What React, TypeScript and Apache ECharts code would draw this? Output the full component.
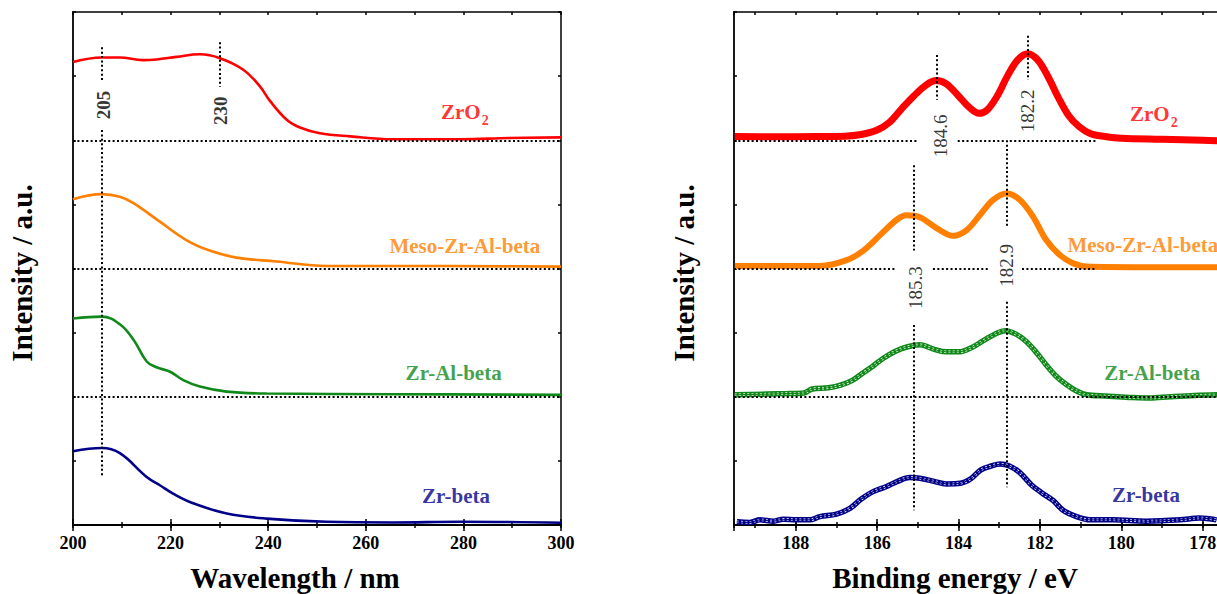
import React, { useEffect, useRef } from 'react';
import * as echarts from 'echarts';

// ---------- UV-vis (left panel): [wavelength nm, stacked intensity a.u.] ----------
const uvZrO2: number[][] = [
  [200, 7.22], [205.9, 7.29], [209.6, 7.29], [214.3, 7.25], [217.1, 7.26], [221.2, 7.3], [226, 7.34],
  [230.1, 7.28], [234.9, 7.1], [238.3, 6.84], [240.4, 6.61], [243.8, 6.32], [246.5, 6.2], [250.6, 6.11],
  [256.8, 6.06], [265.6, 6.015], [279.3, 6.015], [289.5, 6.035], [300, 6.045],
];
const uvMeso: number[][] = [
  [200, 5.08], [205.9, 5.16], [209.6, 5.12], [212.4, 5.02], [217.8, 4.73], [223.3, 4.44], [228, 4.28],
  [233.5, 4.17], [241.7, 4.11], [252, 4.04], [265.6, 4.04], [300, 4.03],
];
const uvZrAl: number[][] = [
  [200, 3.22], [205.9, 3.25], [209.6, 3.13], [212.4, 2.89], [215.1, 2.55], [217.1, 2.46], [219.9, 2.39],
  [222.6, 2.26], [226, 2.16], [231.5, 2.08], [239.7, 2.05], [265.6, 2.04], [300, 2.03],
];
const uvZrBeta: number[][] = [
  [200, 1.15], [205.9, 1.2], [209.6, 1.12], [215.1, 0.75], [217.8, 0.62], [220.5, 0.49], [224.6, 0.34],
  [231.5, 0.18], [239.7, 0.1], [252, 0.05], [265.6, 0.04], [279.3, 0.05], [300, 0.036],
];

// ---------- XPS Zr 3d (right panel): [binding energy eV, stacked intensity a.u.] ----------
const xpsZrO2: number[][] = [
  [189.5, 6.058], [188.5, 6.055], [187.5, 6.058], [186.8, 6.063], [186.4, 6.09], [186.0, 6.16], [185.7, 6.28],
  [185.4, 6.49], [185.1, 6.69], [184.8, 6.86], [184.55, 6.93], [184.3, 6.88], [184.0, 6.69], [183.75, 6.52],
  [183.5, 6.42], [183.3, 6.47], [183.05, 6.69], [182.8, 7.0], [182.55, 7.25], [182.3, 7.35], [182.05, 7.25],
  [181.8, 6.99], [181.55, 6.67], [181.3, 6.39], [181.05, 6.22], [180.75, 6.1], [180.4, 6.058], [180.0, 6.03],
  [179.0, 6.015], [178.0, 6.0], [177.6, 5.993],
];
const xpsMeso: number[][] = [
  [189.5, 4.04], [188.5, 4.04], [187.41, 4.04], [186.75, 4.13], [186.34, 4.28], [185.93, 4.52], [185.52, 4.76],
  [185.28, 4.83], [184.95, 4.8], [184.54, 4.63], [184.13, 4.51], [183.8, 4.6], [183.48, 4.83], [183.15, 5.07],
  [182.82, 5.17], [182.49, 5.07], [182.17, 4.81], [181.84, 4.44], [181.51, 4.21], [181.18, 4.08],
  [180.85, 4.03], [179.5, 4.02], [177.6, 4.02],
];
const xpsZrAl: number[][] = [
  [189.5, 2.03], [188.2, 2.05], [187.8, 2.06], [187.6, 2.12], [187.2, 2.14], [186.9, 2.18], [186.6, 2.26],
  [186.35, 2.37], [186.1, 2.48], [185.85, 2.6], [185.55, 2.71], [185.25, 2.78], [184.95, 2.81], [184.6, 2.74],
  [184.3, 2.7], [184.0, 2.7], [183.7, 2.76], [183.4, 2.87], [183.1, 2.98], [182.85, 3.03], [182.6, 2.98],
  [182.35, 2.87], [182.1, 2.7], [181.85, 2.5], [181.6, 2.32], [181.35, 2.19], [181.1, 2.09], [180.85, 2.03],
  [180.4, 2.01], [179.8, 1.99], [179.3, 1.98], [178.8, 2.0], [178.2, 2.02], [177.6, 2.03],
];
const xpsZrBeta: number[][] = [
  [189.45, 0.05], [189.13, 0.04], [188.88, 0.08], [188.55, 0.06], [188.31, 0.09], [187.98, 0.08], [187.66, 0.08],
  [187.41, 0.13], [187.0, 0.17], [186.67, 0.26], [186.4, 0.4], [186.1, 0.52], [185.77, 0.6], [185.5, 0.68],
  [185.2, 0.74], [184.95, 0.73], [184.6, 0.68], [184.3, 0.64], [183.95, 0.65], [183.7, 0.72], [183.45, 0.86],
  [183.2, 0.92], [182.98, 0.95], [182.75, 0.92], [182.5, 0.82], [182.2, 0.62], [181.95, 0.5], [181.67, 0.38],
  [181.43, 0.23], [181.1, 0.13], [180.77, 0.08], [180.2, 0.08], [179.38, 0.06], [178.56, 0.08], [178.07, 0.11],
  [177.66, 0.08],
];

// ---------- sample names and annotation anchors (data coordinates) ----------
const sampleNames = ['ZrO2', 'Meso-Zr-Al-beta', 'Zr-Al-beta', 'Zr-beta'];
const uvNameAnchors: number[][] = [[280.3, 6.42], [280.3, 4.35], [278.0, 2.37], [278.5, 0.45]];
const xpsNameAnchors: number[][] = [[179.2, 6.39], [179.47, 4.37], [179.24, 2.37], [179.39, 0.47]];

const uvPeakTexts = ['205', '230'];
const uvPeakAnchors: number[][] = [[206.25, 6.55], [230.3, 6.46]];
const xpsPeakTexts = ['184.6', '182.2', '185.3', '182.9'];
const xpsPeakAnchors: number[][] = [[184.45, 6.07], [182.31, 6.46], [185.07, 3.7], [182.82, 4.05]];

// dotted guide segments [[x1, y1], [x2, y2]]
const uvGuides: number[][][] = [
  [[205.9, 7.45], [205.9, 6.92]], [[205.9, 6.16], [205.9, 0.75]],
  [[230.1, 7.53], [230.1, 6.83]],
  [[200, 6], [300, 6]], [[200, 4], [300, 4]], [[200, 2], [300, 2]],
];
const xpsGuides: number[][][] = [
  [[184.54, 7.33], [184.54, 6.63]], [[182.29, 7.63], [182.29, 6.94]],
  [[189.52, 6], [185.02, 6]], [[184.02, 6], [182.86, 6]], [[182.74, 6], [180.6, 6]],
  [[182.82, 6.0], [182.82, 4.63]], [[182.82, 3.48], [182.82, 0.59]],
  [[185.1, 5.61], [185.1, 4.28]], [[185.1, 3.12], [185.1, 0.23]],
  [[189.52, 4], [185.52, 4]], [[184.63, 4], [183.28, 4]], [[182.44, 4], [180.6, 4]],
  [[189.52, 2], [177.5, 2]],
];

const COLORS = ['#ff0000', '#ff7f00', '#11891a', '#000088'];
const FONT = '"Liberation Serif", "Times New Roman", serif';

function xAxes(gridIndex: number, min: number, max: number, minor: number, major: number, inverse: boolean) {
  const base = {
    gridIndex, type: 'value', min, max, inverse, position: 'bottom',
    splitLine: { show: false },
    axisLine: { show: false, onZero: false, lineStyle: { color: '#000', width: 1.5 } },
    axisLabel: { show: false },
  };
  const tick = (inside: boolean, length: number) => ({ show: true, inside, length, lineStyle: { color: '#000', width: 1.5 } });
  return [
    {
      ...base, interval: minor,
      axisLine: { show: true, onZero: false, lineStyle: { color: '#000', width: 1.8 } },
      axisTick: tick(true, 3),
      axisLabel: {
        show: true, margin: 9, color: '#000', fontFamily: FONT, fontWeight: 'bold', fontSize: 18,
        hideOverlap: false,
        formatter: (v: number) => (Math.abs(v / major - Math.round(v / major)) < 1e-6 ? String(Math.round(v)) : ''),
      },
    },
    { ...base, interval: minor, axisTick: tick(false, 3) },
    { ...base, interval: major, axisTick: tick(true, 6) },
    { ...base, interval: major, axisTick: tick(false, 6) },
    {
      ...base, interval: minor, position: 'top',
      axisLine: { show: true, onZero: false, lineStyle: { color: '#000', width: 1.5 } },
      axisTick: tick(true, 3),
    },
  ];
}

function yAxes(gridIndex: number) {
  const common = {
    gridIndex, type: 'value', min: 0, max: 8, interval: 1,
    splitLine: { show: false }, axisLabel: { show: false },
    axisTick: { show: true, inside: true, length: 3, lineStyle: { color: '#000', width: 1.5 } },
  };
  return [
    { ...common, position: 'left', axisLine: { show: true, onZero: false, lineStyle: { color: '#000', width: 1.8 } } },
    { ...common, position: 'right', axisLine: { show: true, onZero: false, lineStyle: { color: '#000', width: 1.5 } } },
  ];
}

function nameLabel(i: number, weight: string) {
  return {
    show: true, position: 'inside', color: COLORS[i], fontFamily: FONT, fontWeight: weight, fontSize: 21,
    formatter: i === 0 ? '{a|ZrO}{s|2}' : sampleNames[i],
    rich: {
      a: { fontFamily: FONT, fontWeight: 'bold', fontSize: 21, color: COLORS[0], verticalAlign: 'top', lineHeight: 24 },
      s: { fontFamily: FONT, fontWeight: 'bold', fontSize: 14, color: COLORS[0], verticalAlign: 'top', lineHeight: 14, padding: [12, 0, 0, 1] },
    },
  };
}

function guideSeries(xi: number, yi: number, guides: number[][][]) {
  return {
    type: 'line', xAxisIndex: xi, yAxisIndex: yi, data: [], silent: true, z: 1,
    markLine: {
      silent: true, symbol: ['none', 'none'], animation: false,
      label: { show: false },
      lineStyle: { color: '#000', width: 2, type: [2, 2.4] },
      emphasis: { disabled: true },
      data: guides.map((g) => [{ coord: g[0] }, { coord: g[1] }]),
    },
  };
}

function textSeries(xi: number, yi: number, anchors: number[][], labelFor: (i: number) => any) {
  return {
    type: 'scatter', xAxisIndex: xi, yAxisIndex: yi, symbolSize: 0, silent: true, z: 5,
    data: anchors.map((a, i) => ({ value: a, label: labelFor(i) })),
  };
}

function peakLabel(text: string, weight: string) {
  return {
    show: true, position: 'inside', rotate: 90, align: 'center', verticalAlign: 'middle',
    formatter: text, color: '#000', fontFamily: FONT, fontWeight: weight, fontSize: 19,
  };
}

function chain(data: number[][], color: string, xi: number, yi: number, width: number, holes: boolean) {
  const s: any[] = [
    { type: 'line', xAxisIndex: xi, yAxisIndex: yi, data, smooth: 0.35, showSymbol: false, z: 3,
      lineStyle: { color, width } },
  ];
  if (holes) {
    s.push({ type: 'line', xAxisIndex: xi, yAxisIndex: yi, data, smooth: 0.35, showSymbol: false, z: 3,
      lineStyle: { color: '#ffffff', width: width - 3, type: [2, 2.2] } });
    s.push({ type: 'line', xAxisIndex: xi, yAxisIndex: yi, data, smooth: 0.35, showSymbol: false, z: 3,
      lineStyle: { color, width: 1.2 } });
  }
  return s;
}

export default function App() {
  const ref = useRef<HTMLDivElement>(null);
  useEffect(() => {
    if (!ref.current) return;
    const chart = echarts.init(ref.current, undefined, { renderer: 'svg' });
    const uvSeries = [uvZrO2, uvMeso, uvZrAl, uvZrBeta];
    const xpsSeries = [xpsZrO2, xpsMeso, xpsZrAl, xpsZrBeta];
    const series: any[] = [
      guideSeries(0, 0, uvGuides),
      guideSeries(5, 2, xpsGuides),
      ...uvSeries.map((d, i) => ({
        type: 'line', xAxisIndex: 0, yAxisIndex: 0, data: d, smooth: 0.4, showSymbol: false, z: 3,
        lineStyle: { color: COLORS[i], width: 2.6 },
      })),
      ...chain(xpsSeries[0], COLORS[0], 5, 2, 7, false),
      ...chain(xpsSeries[1], COLORS[1], 5, 2, 6, false),
      ...chain(xpsSeries[2], COLORS[2], 5, 2, 5.5, true),
      ...chain(xpsSeries[3], COLORS[3], 5, 2, 5.5, true),
      textSeries(0, 0, uvNameAnchors, (i) => nameLabel(i, 'bold')),
      textSeries(5, 2, xpsNameAnchors, (i) => nameLabel(i, 'bold')),
      textSeries(0, 0, uvPeakAnchors, (i) => peakLabel(uvPeakTexts[i], 'bold')),
      textSeries(5, 2, xpsPeakAnchors, (i) => peakLabel(xpsPeakTexts[i], 'normal')),
    ];
    const titleStyle = { fill: '#000', fontFamily: FONT, fontWeight: 'bold', fontSize: 29, textAlign: 'center', textVerticalAlign: 'middle' };
    chart.setOption({
      animation: false,
      backgroundColor: '#fff',
      grid: [
        { left: 73, top: 12, width: 488, height: 513, containLabel: false, outerBoundsMode: 'none' },
        { left: 734, top: 12, width: 550, height: 513, containLabel: false, outerBoundsMode: 'none' },
      ],
      xAxis: [...xAxes(0, 200, 300, 10, 20, false), ...xAxes(1, 176, 189.52, 1, 2, true)],
      yAxis: [...yAxes(0), ...yAxes(1)],
      series,
      graphic: [
        { type: 'text', x: 295, y: 578, style: { ...titleStyle, text: 'Wavelength / nm' } },
        { type: 'text', x: 955, y: 578, style: { ...titleStyle, text: 'Binding energy / eV' } },
        { type: 'text', x: 22, y: 273, rotation: Math.PI / 2, style: { ...titleStyle, text: 'Intensity / a.u.' } },
        { type: 'text', x: 684, y: 273, rotation: Math.PI / 2, style: { ...titleStyle, text: 'Intensity / a.u.' } },
      ],
    });
    return () => chart.dispose();
  }, []);
  return (
    <div
      ref={ref}
      style={{ position: 'fixed', left: 0, top: 0, width: 1217, height: 594, background: '#fff' }}
    />
  );
}
